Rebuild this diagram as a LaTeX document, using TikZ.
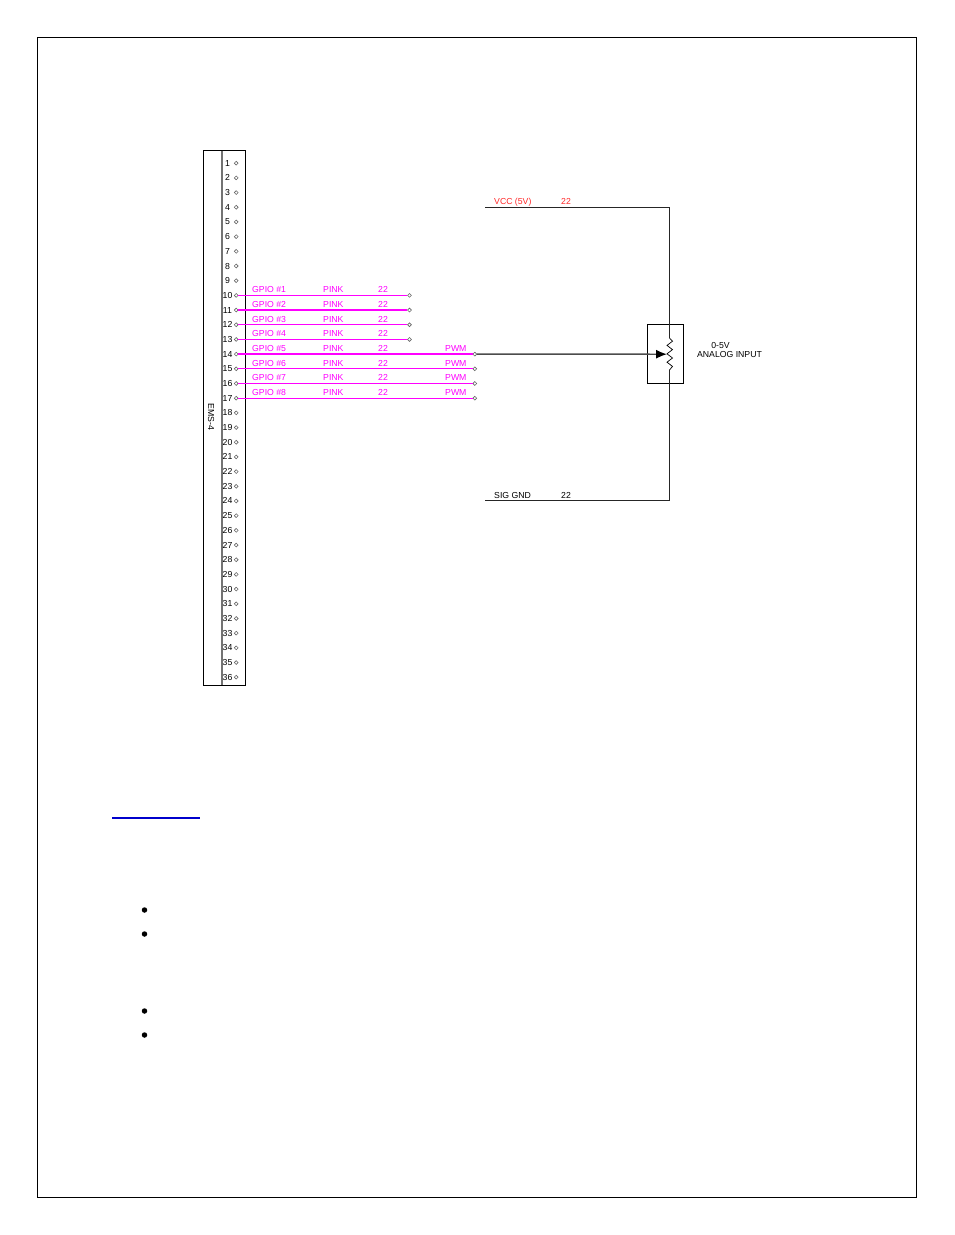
\documentclass[tikz,border=0pt]{standalone}
\usepackage{fontspec}
\setmainfont{Liberation Sans}
\usetikzlibrary{arrows.meta}
\definecolor{wirepink}{RGB}{255,0,255}
\definecolor{wirered}{RGB}{255,40,40}
\tikzset{
    pin/.style={circle,draw=black!60,line width=0.6pt,fill=white,inner sep=0pt,minimum size=3.8pt},
    lbl/.style={font=\fontsize{8.7}{9}\selectfont,inner sep=0pt,anchor=base west},
    pinnum/.style={font=\fontsize{8.7}{9}\selectfont,inner sep=0pt,anchor=base},
    wire/.style={wirepink,line width=1.3pt},
    bullet/.style={circle,fill=black,inner sep=0pt,minimum size=5.5pt},
}
\begin{document}
\begin{tikzpicture}[x=1pt,y=-1pt]
    \useasboundingbox (0,0) rectangle (954,1235);
    % page frame
    \draw[line width=1pt] (37.5,37.5) rectangle (916.5,1197.5);
    % connector body
    \draw[line width=1pt] (203.5,150.5) rectangle (245.5,685);
    \draw[line width=1.3pt,black!55] (222,150.5) -- (222,685);
    \node[font=\fontsize{8.7}{9}\selectfont,rotate=-90,inner sep=0pt] (ems) at (211,417) {EMS-4};
    % pins
    \foreach \n in {1,...,36} {
        \pgfmathsetmacro{\py}{163.2+(\n-1)*14.686}
        \node[pinnum] (num\n) at (227.5,\py+3) {\n};
        \node[pin] (pin\n) at (236.2,\py) {};
    }
    % short wires
    \foreach \n/\g in {10/1,11/2,12/3,13/4} {
        \node[pin] (end\n) at (409.5,0 |- pin\n) {};
        \draw[wire] (pin\n) -- (end\n);
        \path (pin\n) ++(0,-2.7) coordinate (base\n);
        \node[lbl,wirepink] (gpio\n) at (252,0 |- base\n) {GPIO \#\g};
        \node[lbl,wirepink] (color\n) at (323,0 |- base\n) {PINK};
        \node[lbl,wirepink] (gauge\n) at (378,0 |- base\n) {22};
    }
    % long wires
    \foreach \n/\g in {14/5,15/6,16/7,17/8} {
        \node[pin] (end\n) at (474.8,0 |- pin\n) {};
        \draw[wire] (pin\n) -- (end\n);
        \path (pin\n) ++(0,-2.7) coordinate (base\n);
        \node[lbl,wirepink] (gpio\n) at (252,0 |- base\n) {GPIO \#\g};
        \node[lbl,wirepink] (color\n) at (323,0 |- base\n) {PINK};
        \node[lbl,wirepink] (gauge\n) at (378,0 |- base\n) {22};
        \node[lbl,wirepink] (pwm\n) at (445,0 |- base\n) {PWM};
    }
    % analog input
    \node[draw,line width=1pt,minimum width=36pt,minimum height=59.5pt,inner sep=0pt] (sensor) at (665.5,353.8) {};
    \coordinate (vccstart) at (485,207.5);
    \coordinate (vcctop) at (669.5,207.5);
    \coordinate (wipetop) at (669.5,338);
    \coordinate (wipebot) at (669.5,370);
    \coordinate (gndbot) at (669.5,500.5);
    \coordinate (gndstart) at (485,500.5);
    \coordinate (wiper) at (667,354.2);
    \draw[line width=1.1pt,black!85] (vccstart) -- (vcctop) -- (wipetop);
    \draw[line width=1.1pt,black!85] (gndstart) -- (gndbot) -- (wipebot);
    \draw[line width=0.7pt] (wipetop) -- ++(3,3.2) -- ++(-5.5,4.2) -- ++(5.5,4.2) -- ++(-5.5,4.2) -- ++(5.5,4.2) -- ++(-5.5,4.2) -- ++(5.5,4.2) -- (wipebot);
    \draw[-{Latex[black,length=11pt,width=9pt]},line width=1.4pt,black!70] (end14) -- (wiper);
    \node[lbl,wirered] (vcc) at (494,204.5) {VCC (5V)};
    \node[lbl,wirered] (vccgauge) at (561,204.5) {22};
    \node[lbl] (gnd) at (494,498) {SIG GND};
    \node[lbl] (gndgauge) at (561,498) {22};
    \node[font=\fontsize{8.7}{9}\selectfont,inner sep=0pt] (range) at (720.5,345.2) {0-5V};
    \node[font=\fontsize{8.7}{9}\selectfont,inner sep=0pt] (input) at (729.5,354.2) {ANALOG INPUT};
    % link rule and list marks
    \draw[blue!80!black,line width=1.2pt] (112,818) -- (200,818);
    \foreach \k/\y in {a/910,b/934,c/1011,d/1035} {
        \node[bullet] (mark\k) at (144.5,\y) {};
    }
\end{tikzpicture}
\end{document}
